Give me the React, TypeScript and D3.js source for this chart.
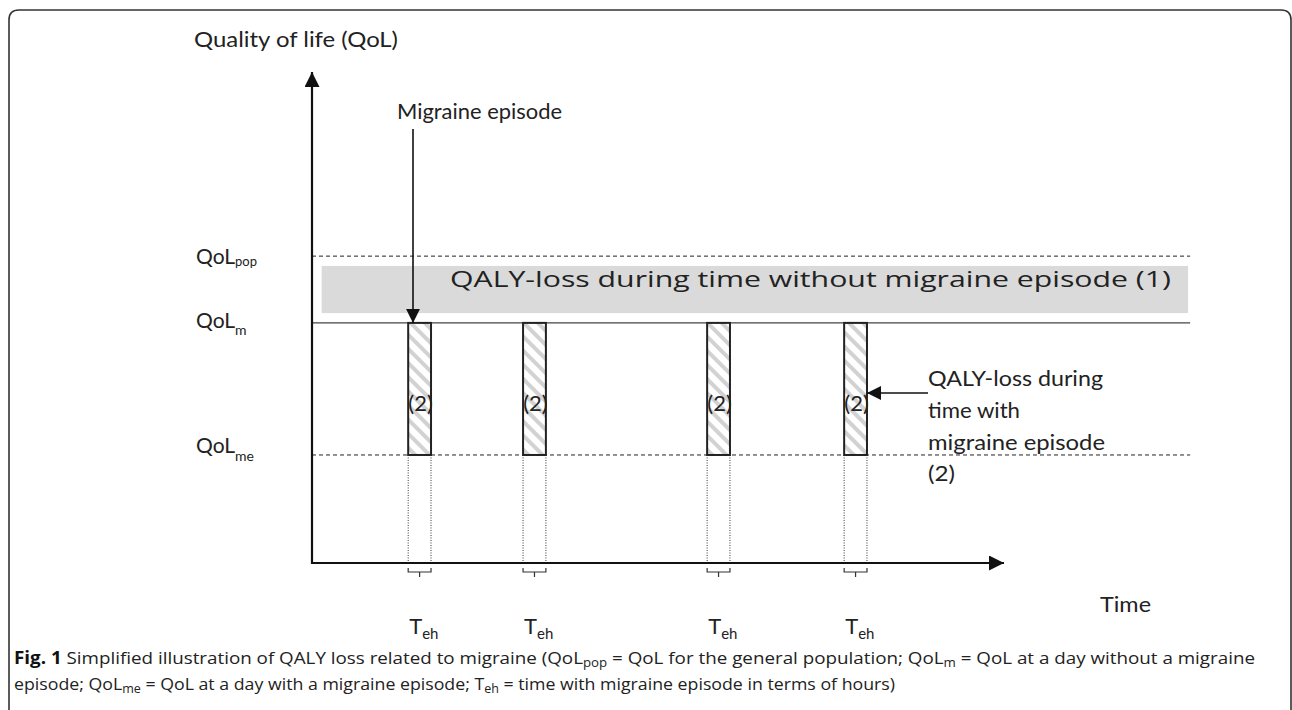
import React from "react";
import * as d3 from "d3";

// ---- data ----
const levelNames = ["QoL_pop", "QoL_m", "QoL_me"];
const levelValues = [62.5, 48.9, 22.0];
const bandRange = [50.9, 60.5]; // grey QALY-loss band (1)
const episodeStarts = [13.9, 30.5, 57.1, 76.9];
const episodeWidth = 3.3;
const timeDomain = [0, 100];
const qolDomain = [0, 100];
const lineEnd = 126.9;

const W = 1292;
const H = 710;
const FONT = "Lato, 'Open Sans', sans-serif";
const INK = "#222";

export default function App() {
  const x = d3.scaleLinear().domain(timeDomain).range([312, 1004]);
  const y = d3.scaleLinear().domain(qolDomain).range([563, 72]);
  const x0 = x(0);
  const y0 = y(0);
  const yPop = y(levelValues[0]);
  const yM = y(levelValues[1]);
  const yMe = y(levelValues[2]);
  const xEnd = x(lineEnd);

  const border = `M9,730 L9,20 Q9,10 19,10 L1281,10 Q1291,10 1291,20 L1291,730`;

  return (
    <svg width={W} height={H} style={{ position: "absolute", left: 0, top: 0 }}>
      <defs>
        <pattern id="hatch" width="10" height="10" patternUnits="userSpaceOnUse" patternTransform="rotate(-45)">
          <rect width="10" height="10" fill="#fff" />
          <rect x="0" y="0" width="4" height="10" fill="#d2d2d2" />
        </pattern>
        <marker id="arrowHead" viewBox="0 0 10 10" refX="10" refY="5" markerWidth="14" markerHeight="14" markerUnits="userSpaceOnUse" orient="auto">
          <path d="M0,0 L10,5 L0,10 Z" fill="#111" />
        </marker>
        <marker id="axisHead" viewBox="0 0 10 10" refX="10" refY="5" markerWidth="15" markerHeight="15" markerUnits="userSpaceOnUse" orient="auto">
          <path d="M0,0 L10,5 L0,10 Z" fill="#111" />
        </marker>
      </defs>
      <rect width={W} height={H} fill="#fff" />
      <path d={border} fill="none" stroke="#333" strokeWidth={1.6} />

      {/* grey band (1) */}
      <rect x={x(1.4)} y={y(bandRange[1])} width={x(126.6) - x(1.4)} height={y(bandRange[0]) - y(bandRange[1])} fill="#dadada" />
      <text x={450} y={287} fontFamily="'Open Sans', Lato, sans-serif" fontSize={22} fill={INK} textLength={721} lengthAdjust="spacingAndGlyphs">
        QALY-loss during time without migraine episode (1)
      </text>

      {/* level lines */}
      <line x1={x0} x2={xEnd} y1={yPop} y2={yPop} stroke="#222" strokeWidth={1} strokeDasharray="4,3" />
      <line x1={x0} x2={xEnd} y1={yM} y2={yM} stroke="#444" strokeWidth={1.3} />
      <line x1={x0} x2={xEnd} y1={yMe} y2={yMe} stroke="#222" strokeWidth={1} strokeDasharray="4,3" />

      {/* level labels */}
      <text x={196} y={yPop + 8} fontFamily={FONT} fontSize={21} fill={INK} textLength={61} lengthAdjust="spacingAndGlyphs">
        QoL<tspan fontSize={13} dy={2}>pop</tspan>
      </text>
      <text x={196} y={yM + 5} fontFamily={FONT} fontSize={21} fill={INK}>
        QoL<tspan fontSize={14} dy={7}>m</tspan>
      </text>
      <text x={196} y={yMe - 2} fontFamily={FONT} fontSize={21} fill={INK}>
        QoL<tspan fontSize={14} dy={8}>me</tspan>
      </text>

      {/* episodes */}
      {episodeStarts.map((s, i) => {
        const xl = x(s);
        const xr = x(s + episodeWidth);
        const cx = (xl + xr) / 2;
        return (
          <g key={i}>
            <line x1={xl} x2={xl} y1={yMe} y2={y0} stroke="#333" strokeWidth={1} strokeDasharray="1,1.5" />
            <line x1={xr} x2={xr} y1={yMe} y2={y0} stroke="#333" strokeWidth={1} strokeDasharray="1,1.5" />
            <rect x={xl} y={yM} width={xr - xl} height={yMe - yM} fill="url(#hatch)" stroke="#222" strokeWidth={2} />
            <text x={cx + 1} y={yM + 88} textAnchor="middle" fontFamily={FONT} fontSize={22} fill={INK}>(2)</text>
            <path d={`M${xl},${y0 + 5} L${xl},${y0 + 9} L${xr},${y0 + 9} L${xr},${y0 + 5} M${cx},${y0 + 9} L${cx},${y0 + 14}`} fill="none" stroke="#333" strokeWidth={1.2} />
            <text x={xl + 1} y={y0 + 71} fontFamily={FONT} fontSize={22} fill={INK}>
              T<tspan fontSize={15} dy={5}>eh</tspan>
            </text>
          </g>
        );
      })}

      {/* axes */}
      <line x1={x0} x2={x0} y1={y0 + 1} y2={y(100)} stroke="#111" strokeWidth={2.2} markerEnd="url(#axisHead)" />
      <line x1={x0 - 1} x2={x(100)} y1={y0} y2={y0} stroke="#111" strokeWidth={2.2} markerEnd="url(#axisHead)" />
      <text x={194} y={47} fontFamily={FONT} fontSize={21} fill={INK} textLength={204} lengthAdjust="spacingAndGlyphs">Quality of life (QoL)</text>
      <text x={1100} y={612} fontFamily={FONT} fontSize={22} fill={INK} textLength={51} lengthAdjust="spacingAndGlyphs">Time</text>

      {/* migraine episode annotation */}
      <text x={397} y={119} fontFamily={FONT} fontSize={21} fill={INK} textLength={165} lengthAdjust="spacingAndGlyphs">Migraine episode</text>
      <line x1={413} x2={413} y1={129} y2={yM} stroke="#111" strokeWidth={1.6} markerEnd="url(#arrowHead)" />

      {/* right annotation */}
      <line x1={928} x2={x(episodeStarts[3] + episodeWidth)} y1={393} y2={393} stroke="#111" strokeWidth={1.6} markerEnd="url(#arrowHead)" />
      <g fontFamily={FONT} fontSize={21} fill={INK}>
        <text x={928} y={386} textLength={175} lengthAdjust="spacingAndGlyphs">QALY-loss during</text>
        <text x={928} y={418} textLength={92} lengthAdjust="spacingAndGlyphs">time with</text>
        <text x={928} y={450} textLength={177} lengthAdjust="spacingAndGlyphs">migraine episode</text>
        <text x={928} y={481} textLength={27} lengthAdjust="spacingAndGlyphs">(2)</text>
      </g>

      {/* caption */}
      <g fontFamily="'Open Sans', 'Liberation Sans', sans-serif" fontSize={17} fill="#222">
        <text x={14} y={664} textLength={1241} lengthAdjust="spacingAndGlyphs">
          <tspan fontWeight="bold" fill="#111">Fig. 1</tspan> Simplified illustration of QALY loss related to migraine (QoL<tspan fontSize={12} dy={3}>pop</tspan><tspan dy={-3}> = QoL for the general population; QoL</tspan><tspan fontSize={12} dy={3}>m</tspan><tspan dy={-3}> = QoL at a day without a migraine</tspan>
        </text>
        <text x={14} y={690} textLength={881} lengthAdjust="spacingAndGlyphs">
          episode; QoL<tspan fontSize={12} dy={3}>me</tspan><tspan dy={-3}> = QoL at a day with a migraine episode; T</tspan><tspan fontSize={12} dy={3}>eh</tspan><tspan dy={-3}> = time with migraine episode in terms of hours)</tspan>
        </text>
      </g>
    </svg>
  );
}
